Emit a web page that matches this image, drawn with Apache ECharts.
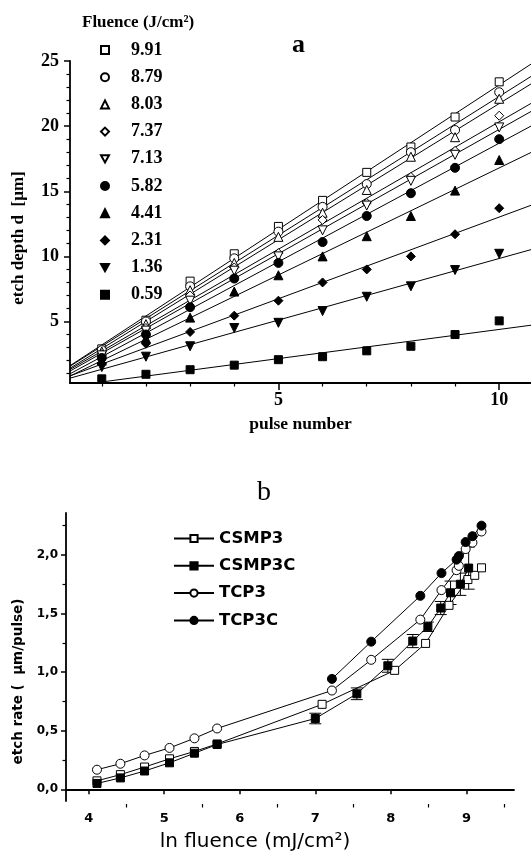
<!DOCTYPE html>
<html>
<head>
<meta charset="utf-8">
<script src="https://cdn.jsdelivr.net/npm/echarts@6/dist/echarts.min.js"></script>
<style>html,body{margin:0;padding:0;background:#fff}#c{width:531px;height:853px}</style>
</head>
<body>
<div id="c"></div>
<script>
// ---------- Panel a data ----------
const pulses = [1, 2, 3, 4, 5, 6, 7, 8, 9, 10];
const fluenceLabels = ['9.91', '8.79', '8.03', '7.37', '7.13', '5.82', '4.41', '2.31', '1.36', '0.59'];
const depth991 = [2.9, 5.1, 8.1, 10.2, 12.3, 14.3, 16.45, 18.4, 20.7, 23.4];
const depth879 = [2.8, 5.0, 7.7, 9.85, 11.9, 13.8, 15.55, 18.0, 19.7, 22.6];
const depth803 = [2.7, 4.8, 7.4, 9.5, 11.5, 13.35, 15.1, 17.65, 19.15, 22.1];
const depth737 = [2.5, 4.5, 7.0, 9.15, 10.25, 12.8, 14.1, 16.1, 18.1, 20.8];
const depth713 = [2.4, 4.3, 6.6, 8.9, 10.0, 12.0, 13.9, 15.8, 17.8, 19.9];
const depth582 = [2.2, 4.0, 6.1, 8.3, 9.5, 11.1, 13.1, 14.85, 16.8, 19.0];
const depth441 = [2.0, 3.7, 5.3, 7.3, 8.55, 10.0, 11.55, 13.1, 15.05, 17.4];
const depth231 = [1.8, 3.3, 4.2, 5.45, 6.6, 8.0, 9.0, 10.0, 11.7, 13.7];
const depth136 = [1.5, 2.3, 3.1, 4.5, 4.9, 5.8, 6.9, 7.7, 8.95, 10.2];
const depth059 = [0.6, 0.95, 1.3, 1.65, 2.07, 2.3, 2.75, 3.1, 4.0, 5.05];
const depthSeries = [depth991, depth879, depth803, depth737, depth713, depth582, depth441, depth231, depth136, depth059];
const aYTicks = [5, 10, 15, 20, 25];
const aYMinorTicks = [1, 2, 3, 4, 6, 7, 8, 9, 11, 12, 13, 14, 16, 17, 18, 19, 21, 22, 23, 24];
const aXTicks = [5, 10];
const aXMinorTicks = [1, 2, 3, 4, 6, 7, 8, 9];

// ---------- Panel b data ----------
const csmp3X = [4.11, 4.42, 4.74, 5.07, 5.40, 5.70, 7.09, 8.05, 8.46, 8.77, 9.02, 9.11, 9.20];
const csmp3Y = [0.072, 0.125, 0.19, 0.26, 0.323, 0.387, 0.725, 1.015, 1.245, 1.57, 1.79, 1.826, 1.89];
const csmp3cX = [4.11, 4.42, 4.74, 5.07, 5.40, 5.70, 7.00, 7.55, 7.96, 8.29, 8.49, 8.66, 8.79, 8.92, 9.03];
const csmp3cY = [0.05, 0.097, 0.156, 0.226, 0.308, 0.382, 0.604, 0.815, 1.054, 1.265, 1.387, 1.547, 1.677, 1.75, 1.888];
const csmp3cErr = [0, 0, 0, 0, 0, 0, 0.045, 0.05, 0.055, 0.056, 0.04, 0.056, 0.1, 0.095, 0.18];
const tcp3X = [4.11, 4.42, 4.74, 5.07, 5.40, 5.70, 7.22, 7.74, 8.39, 8.67, 8.87, 8.90, 8.99, 9.08, 9.20];
const tcp3Y = [0.167, 0.218, 0.289, 0.353, 0.435, 0.519, 0.843, 1.105, 1.448, 1.70, 1.87, 1.907, 2.05, 2.105, 2.20];
const tcp3cX = [7.22, 7.74, 8.39, 8.67, 8.87, 8.90, 8.99, 9.08, 9.20];
const tcp3cY = [0.942, 1.26, 1.651, 1.845, 1.96, 1.99, 2.11, 2.16, 2.25];
const bXTicks = [4, 5, 6, 7, 8, 9];
const bXMinorTicks = [4.5, 5.5, 6.5, 7.5, 8.5, 9.5];
const bYTicks = [0, 0.5, 1.0, 1.5, 2.0];
const bYMinorTicks = [0.25, 0.75, 1.25, 1.75, 2.25];

// ---------- build ----------
const serif = 'Liberation Serif';
const sans = 'DejaVu Sans';
const aXMin = 0.28, aXMax = 10.72, aYMin = 0.28, aYMax = 25;
const bXMin = 3.70, bXMax = 9.63, bYMin = -0.1, bYMax = 2.358;
const gridA = {left: 70, top: 61, width: 461, height: 322};
const gridB = {left: 66, top: 513, width: 448, height: 291};
const downTri = 'path://M0,0 L10,0 L5,9 Z';

const symbolsA = [
  {symbol: 'rect', fill: false},
  {symbol: 'circle', fill: false},
  {symbol: 'triangle', fill: false},
  {symbol: 'diamond', fill: false},
  {symbol: downTri, fill: false},
  {symbol: 'circle', fill: true},
  {symbol: 'triangle', fill: true},
  {symbol: 'diamond', fill: true},
  {symbol: downTri, fill: true},
  {symbol: 'rect', fill: true}
];

function fit(xs, ys) {
  const n = xs.length;
  const mx = xs.reduce((a, b) => a + b, 0) / n;
  const my = ys.reduce((a, b) => a + b, 0) / n;
  let sxy = 0, sxx = 0;
  for (let i = 0; i < n; i++) { sxy += (xs[i] - mx) * (ys[i] - my); sxx += (xs[i] - mx) ** 2; }
  const b = sxy / sxx;
  return [my - b * mx, b];
}

const series = [];
depthSeries.forEach((ys) => {
  const [a, b] = fit(pulses, ys);
  series.push({
    type: 'line', xAxisIndex: 0, yAxisIndex: 0, silent: true,
    symbol: 'none', lineStyle: {color: '#000', width: 1},
    data: [[aXMin, a + b * aXMin], [aXMax, a + b * aXMax]], z: 2
  });
});
depthSeries.forEach((ys, i) => {
  const s = symbolsA[i];
  series.push({
    type: 'scatter', name: fluenceLabels[i], xAxisIndex: 0, yAxisIndex: 0,
    symbol: s.symbol,
    symbolSize: s.symbol === 'rect' ? 8 : 9,
    itemStyle: {color: s.fill ? '#000' : '#fff', borderColor: '#000', borderWidth: 1, opacity: 1},
    data: pulses.map((p, k) => [p, ys[k]]), z: 3
  });
});

function zip(xs, ys) { return xs.map((x, i) => [x, ys[i]]); }
const bCommon = {type: 'line', xAxisIndex: 2, yAxisIndex: 2, showSymbol: true, symbolSize: 8,
  lineStyle: {color: '#000', width: 1}};
series.push(Object.assign({}, bCommon, {name: 'CSMP3', symbol: 'rect',
  itemStyle: {color: '#fff', borderColor: '#000', borderWidth: 1}, data: zip(csmp3X, csmp3Y)}));
series.push(Object.assign({}, bCommon, {name: 'CSMP3C', symbol: 'rect',
  itemStyle: {color: '#000', borderColor: '#000', borderWidth: 1}, data: zip(csmp3cX, csmp3cY)}));
series.push(Object.assign({}, bCommon, {name: 'TCP3', symbol: 'circle', symbolSize: 9,
  itemStyle: {color: '#fff', borderColor: '#000', borderWidth: 1}, data: zip(tcp3X, tcp3Y)}));
series.push(Object.assign({}, bCommon, {name: 'TCP3C', symbol: 'circle', symbolSize: 9,
  itemStyle: {color: '#000', borderColor: '#000', borderWidth: 1}, data: zip(tcp3cX, tcp3cY)}));
series.push({
  type: 'custom', xAxisIndex: 2, yAxisIndex: 2, silent: true, z: 1,
  data: csmp3cX.map((x, i) => [x, csmp3cY[i], csmp3cErr[i]]),
  renderItem: function (params, api) {
    const x = api.value(0), y = api.value(1), e = api.value(2);
    if (!e) return null;
    const t = api.coord([x, y + e]), b = api.coord([x, y - e]);
    const w = 6, st = {stroke: '#000', lineWidth: 1};
    return {type: 'group', children: [
      {type: 'line', shape: {x1: t[0], y1: t[1], x2: b[0], y2: b[1]}, style: st},
      {type: 'line', shape: {x1: t[0] - w, y1: t[1], x2: t[0] + w, y2: t[1]}, style: st},
      {type: 'line', shape: {x1: b[0] - w, y1: b[1], x2: b[0] + w, y2: b[1]}, style: st}
    ]};
  }
});

const lineBlack = (w) => ({show: true, lineStyle: {color: '#000', width: w}});

const legendA = fluenceLabels.map((n, i) => ({name: n, icon: symbolsA[i].symbol}));

// minor-tick axes: placed on the opposite side and shifted back onto the main axis line,
// with ticks drawn "inside" so they point outward from the plot like the major ticks.
function minorAxis(grid, pos, offset, min, max, ticks) {
  return {gridIndex: grid, type: 'value', position: pos, offset: offset, min: min, max: max,
    axisLine: {show: false}, splitLine: {show: false}, axisLabel: {show: false},
    axisTick: {show: true, inside: true, customValues: ticks, length: 3.5, lineStyle: {color: '#000', width: 1.2}}};
}

const option = {
  backgroundColor: '#fff',
  animation: false,
  grid: [gridA, gridB],
  title: [
    {text: 'Fluence (J/cm²)', left: 77, top: 9.5, textStyle: {fontFamily: serif, fontWeight: 'bold', fontSize: 17, color: '#000'}},
    {text: 'a', left: 287, top: 27, textStyle: {fontFamily: serif, fontWeight: 'bold', fontSize: 26, color: '#000'}},
    {text: 'b', left: 252, top: 474, textStyle: {fontFamily: serif, fontWeight: 'normal', fontSize: 28, color: '#000'}}
  ],
  legend: [
    {
      orient: 'vertical', left: 95, top: 36, itemWidth: 8, itemHeight: 8, itemGap: 9.2,
      data: legendA, selectedMode: false,
      textStyle: {fontFamily: serif, fontWeight: 'bold', fontSize: 18, color: '#000', padding: [0, 0, 0, 17]}
    },
    {
      orient: 'vertical', left: 168, top: 525, itemWidth: 40, itemHeight: 9, itemGap: 10.3,
      data: ['CSMP3', 'CSMP3C', 'TCP3', 'TCP3C'], selectedMode: false,
      textStyle: {fontFamily: sans, fontWeight: 'bold', fontSize: 16.5, color: '#000'}
    }
  ],
  xAxis: [
    {gridIndex: 0, type: 'value', position: 'bottom', min: aXMin, max: aXMax,
      name: 'pulse number', nameLocation: 'middle', nameGap: 32,
      nameTextStyle: {fontFamily: serif, fontWeight: 'bold', fontSize: 17.5, color: '#000'},
      axisLine: lineBlack(1.8), splitLine: {show: false},
      axisTick: {show: true, customValues: aXTicks, length: 7, lineStyle: {color: '#000', width: 1.5}},
      axisLabel: {customValues: aXTicks, fontFamily: serif, fontWeight: 'bold', fontSize: 18, color: '#000', margin: 8}},
    minorAxis(0, 'top', -gridA.height, aXMin, aXMax, aXMinorTicks),
    {gridIndex: 1, type: 'value', position: 'bottom', min: bXMin, max: bXMax,
      name: 'ln fluence (mJ/cm²)', nameLocation: 'middle', nameGap: 31,
      nameTextStyle: {fontFamily: sans, fontWeight: 'normal', fontSize: 20, color: '#000', padding: [0, 70, 0, 0]},
      axisLine: lineBlack(1.8), splitLine: {show: false},
      axisTick: {show: true, customValues: bXTicks, length: 5, lineStyle: {color: '#000', width: 1.5}},
      axisLabel: {customValues: bXTicks, fontFamily: sans, fontWeight: 'bold', fontSize: 13, color: '#000', margin: 11.5}},
    minorAxis(1, 'top', -gridB.height, bXMin, bXMax, bXMinorTicks)
  ],
  yAxis: [
    {gridIndex: 0, type: 'value', position: 'left', min: aYMin, max: aYMax,
      name: 'etch depth d  [µm]', nameLocation: 'middle', nameGap: 43,
      nameTextStyle: {fontFamily: serif, fontWeight: 'bold', fontSize: 17, color: '#000', padding: [0, 32, 0, 0]},
      axisLine: lineBlack(1.8), splitLine: {show: false},
      axisTick: {show: true, customValues: aYTicks, length: 6, lineStyle: {color: '#000', width: 1.5}},
      axisLabel: {customValues: aYTicks, fontFamily: serif, fontWeight: 'bold', fontSize: 18, color: '#000', margin: 11}},
    minorAxis(0, 'right', -gridA.width, aYMin, aYMax, aYMinorTicks),
    {gridIndex: 1, type: 'value', position: 'left', min: bYMin, max: bYMax,
      name: 'etch rate (  µm/pulse)', nameLocation: 'middle', nameGap: 40,
      nameTextStyle: {fontFamily: sans, fontWeight: 'bold', fontSize: 13.5, color: '#000', padding: [0, 49, 0, 0]},
      axisLine: lineBlack(1.8), splitLine: {show: false},
      axisTick: {show: true, customValues: bYTicks, length: 5, lineStyle: {color: '#000', width: 1.5}},
      axisLabel: {customValues: bYTicks, formatter: v => v.toFixed(1).replace('.', ','),
        fontFamily: sans, fontWeight: 'bold', fontSize: 12, color: '#000', margin: 8}},
    minorAxis(1, 'right', -gridB.width, bYMin, bYMax, bYMinorTicks)
  ],
  series: series
};

const chart = echarts.init(document.getElementById('c'), null, {renderer: 'canvas'});
chart.setOption(option);
</script>
</body>
</html>
